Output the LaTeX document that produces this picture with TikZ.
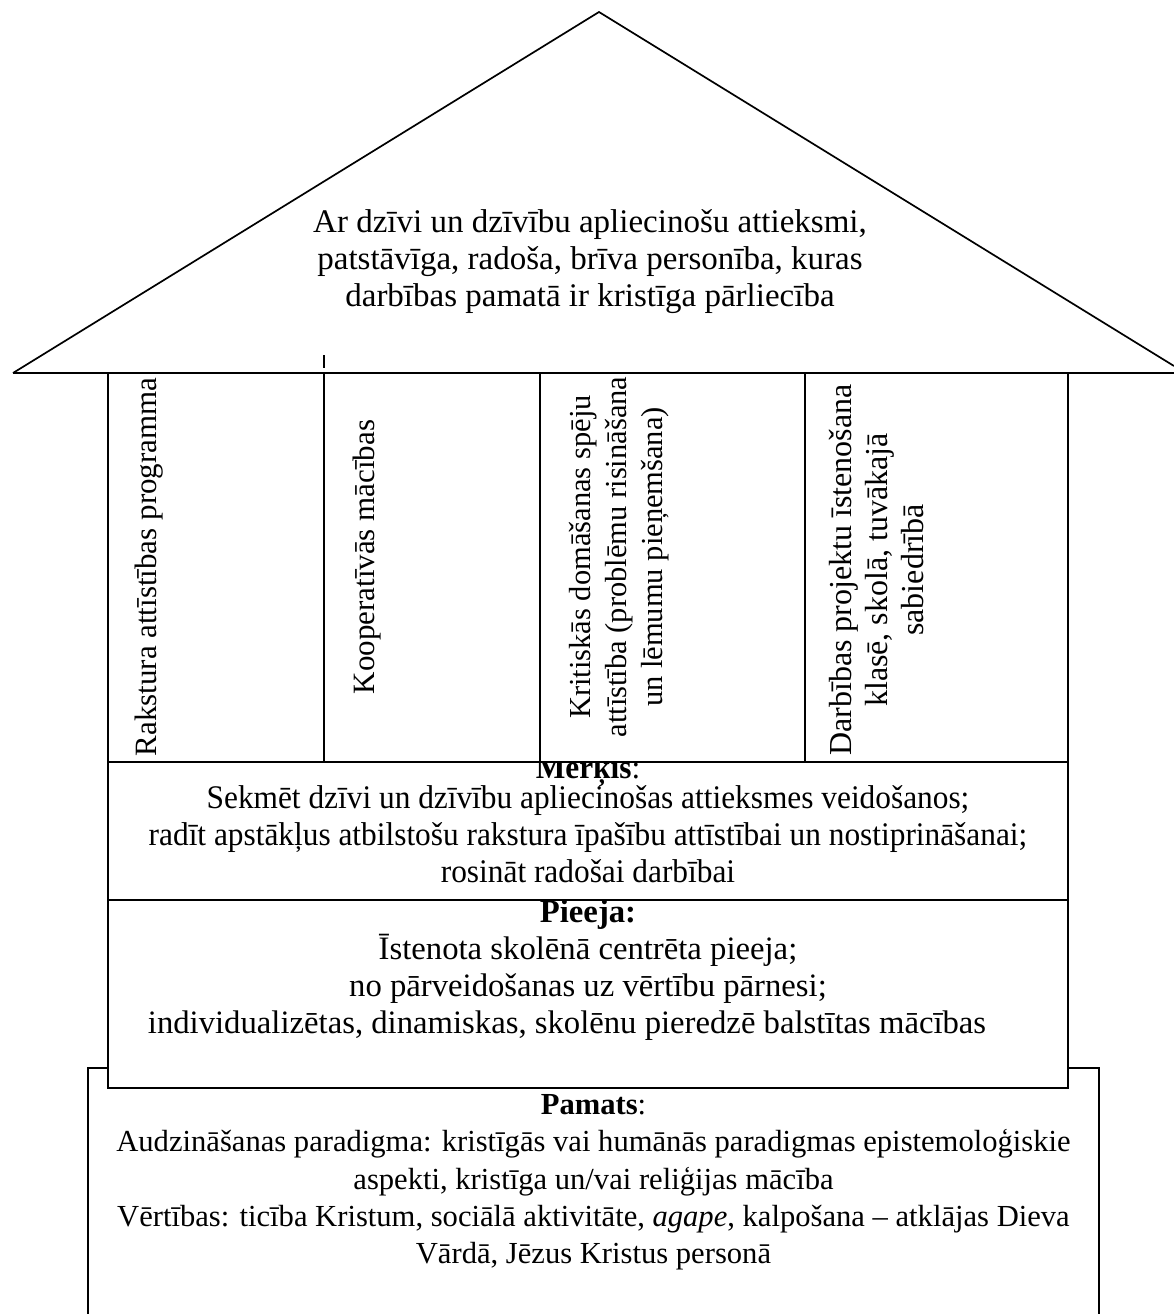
\documentclass[tikz,border=0pt]{standalone}
\usepackage{fontspec}
\setmainfont{Liberation Serif}
\newfontfamily\condfont[FakeStretch=0.95]{Liberation Serif}
\begin{document}
\begin{tikzpicture}[x=1pt,y=-1pt,line width=1.7pt,
  txt/.style={inner sep=0pt,align=center},
  coltxt/.style={inner sep=0pt,align=center,rotate=90,anchor=north},
  box/.style={draw,fill=white}]
\useasboundingbox (0,0) rectangle (1174,1314);
% roof
\coordinate (apex) at (599,12);
\coordinate (eL) at (13,373);
\coordinate (eR) at (1174,366);
\coordinate (bR) at (1174,373);
\draw (eL) -- (apex) -- (eR);
\draw (eL) -- (bR);
\coordinate (tickA) at (324,355);
\coordinate (tickB) at (324,368);
\draw[line width=1.3pt] (tickA) -- (tickB);
\node[txt,anchor=north,font=\fontsize{33}{37}\selectfont] (roof) at (590,205.6) {\strut Ar dzīvi un dzīvību apliecinošu attieksmi,\\ patstāvīga, radoša, brīva personība, kuras\\ darbības pamatā ir kristīga pārliecība};
% foundation
\coordinate (pa1) at (88,1316);
\coordinate (pa2) at (88,1068);
\coordinate (pa3) at (1099,1068);
\coordinate (pa4) at (1099,1316);
\draw (pa1) -- (pa2) -- (pa3) -- (pa4);
\node[txt,anchor=north,font=\fontsize{30.6}{37.3}\selectfont] (pamats) at (593.5,1087.5) {\strut\textbf{Pamats}:\\ Audzināšanas paradigma: kristīgās vai humānās paradigmas epistemoloģiskie\\ aspekti, kristīga un/vai reliģijas mācība\\ Vērtības: ticība Kristum, sociālā aktivitāte, \textit{agape}, kalpošana – atklājas Dieva\\ Vārdā, Jēzus Kristus personā};
% approach
\draw[box] (108,900) rectangle (1068,1088);
\node[txt,anchor=north,font=\fontsize{32.7}{37}\selectfont] (pieeja) at (588,896) {\strut\textbf{Pieeja:}\\ Īstenota skolēnā centrēta pieeja;\\ no pārveidošanas uz vērtību pārnesi;\\ individualizētas, dinamiskas, skolēnu pieredzē balstītas mācības\kern42pt};
% aim
\draw[box] (108,762) rectangle (1068,900);
\node[txt,anchor=base,font=\condfont\fontsize{33}{37}\selectfont] (merkisT) at (588,778) {\textbf{Mērķis}:};
\node[txt,anchor=north,font=\condfont\fontsize{33}{37}\selectfont] (merkis) at (588,781.5) {\strut Sekmēt dzīvi un dzīvību apliecinošas attieksmes veidošanos;\\ radīt apstākļus atbilstošu rakstura īpašību attīstībai un nostiprināšanai;\\ rosināt radošai darbībai};
% columns
\draw[box] (108,373) rectangle (1068,762);
\draw (324,373) -- (324,762);
\draw (540,373) -- (540,762);
\draw (805,373) -- (805,762);
\node[coltxt,font=\fontsize{31}{36}\selectfont] (c1) at (130,567) {\strut Rakstura attīstības programma};
\node[coltxt,font=\fontsize{31}{36}\selectfont] (c2) at (348,557) {\strut Kooperatīvās mācības};
\node[coltxt,font=\fontsize{30.5}{36}\selectfont] (c3) at (564.7,557) {\strut Kritiskās domāšanas spēju\\ attīstība (problēmu risināšana\\ un lēmumu pieņemšana)};
\node[coltxt,font=\fontsize{32}{36}\selectfont] (c4) at (825,570) {\strut Darbības projektu īstenošana\\ klasē, skolā, tuvākajā\\ sabiedrībā};
\end{tikzpicture}
\end{document}
